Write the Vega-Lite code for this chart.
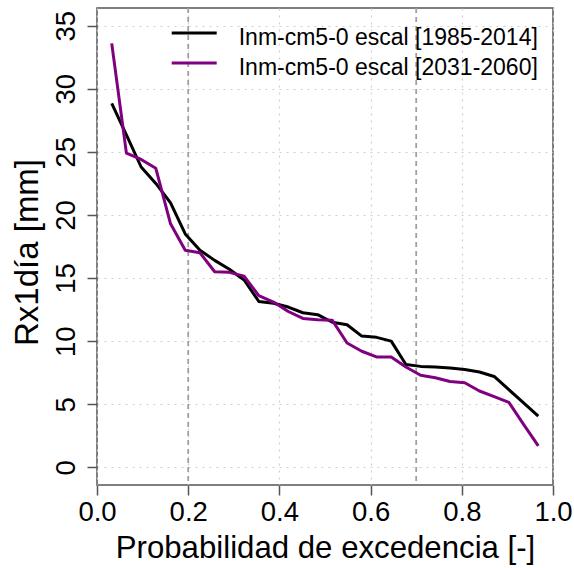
{
  "$schema": "https://vega.github.io/schema/vega-lite/v6.json",
  "width": 456,
  "height": 477,
  "autosize": {"type": "none"},
  "padding": {"left": 97, "top": 8, "right": 21, "bottom": 83},
  "background": "white",
  "config": {
    "font": "Liberation Sans",
    "view": {"stroke": "#555555", "strokeWidth": 1.5},
    "axis": {
      "domain": false,
      "grid": true,
      "gridColor": "#cfcfcf",
      "gridDash": [2, 5],
      "gridWidth": 1.2,
      "tickColor": "#555555",
      "tickWidth": 1.5,
      "tickSize": 10,
      "labelColor": "#000000",
      "titleColor": "#000000",
      "labelFont": "Liberation Sans",
      "titleFont": "Liberation Sans",
      "titleFontWeight": "normal",
      "labelFontSize": 27.5,
      "labelOverlap": false,
      "labelFlush": false
    }
  },
  "datasets": {
    "ref": [{"p": 0.2}, {"p": 0.7}],
    "curves": [
      {"p": 0.0323, "v": 28.85, "serie": "Inm-cm5-0 escal [1985-2014]"},
      {"p": 0.0645, "v": 26.35, "serie": "Inm-cm5-0 escal [1985-2014]"},
      {"p": 0.0968, "v": 23.8, "serie": "Inm-cm5-0 escal [1985-2014]"},
      {"p": 0.1290, "v": 22.5, "serie": "Inm-cm5-0 escal [1985-2014]"},
      {"p": 0.1613, "v": 20.95, "serie": "Inm-cm5-0 escal [1985-2014]"},
      {"p": 0.1935, "v": 18.5, "serie": "Inm-cm5-0 escal [1985-2014]"},
      {"p": 0.2258, "v": 17.2, "serie": "Inm-cm5-0 escal [1985-2014]"},
      {"p": 0.2581, "v": 16.4, "serie": "Inm-cm5-0 escal [1985-2014]"},
      {"p": 0.2903, "v": 15.7, "serie": "Inm-cm5-0 escal [1985-2014]"},
      {"p": 0.3226, "v": 14.85, "serie": "Inm-cm5-0 escal [1985-2014]"},
      {"p": 0.3548, "v": 13.15, "serie": "Inm-cm5-0 escal [1985-2014]"},
      {"p": 0.3871, "v": 13.0, "serie": "Inm-cm5-0 escal [1985-2014]"},
      {"p": 0.4194, "v": 12.7, "serie": "Inm-cm5-0 escal [1985-2014]"},
      {"p": 0.4516, "v": 12.25, "serie": "Inm-cm5-0 escal [1985-2014]"},
      {"p": 0.4839, "v": 12.1, "serie": "Inm-cm5-0 escal [1985-2014]"},
      {"p": 0.5161, "v": 11.5, "serie": "Inm-cm5-0 escal [1985-2014]"},
      {"p": 0.5484, "v": 11.3, "serie": "Inm-cm5-0 escal [1985-2014]"},
      {"p": 0.5806, "v": 10.4, "serie": "Inm-cm5-0 escal [1985-2014]"},
      {"p": 0.6129, "v": 10.3, "serie": "Inm-cm5-0 escal [1985-2014]"},
      {"p": 0.6452, "v": 10.0, "serie": "Inm-cm5-0 escal [1985-2014]"},
      {"p": 0.6774, "v": 8.15, "serie": "Inm-cm5-0 escal [1985-2014]"},
      {"p": 0.7097, "v": 8.0, "serie": "Inm-cm5-0 escal [1985-2014]"},
      {"p": 0.7419, "v": 7.95, "serie": "Inm-cm5-0 escal [1985-2014]"},
      {"p": 0.7742, "v": 7.87, "serie": "Inm-cm5-0 escal [1985-2014]"},
      {"p": 0.8065, "v": 7.75, "serie": "Inm-cm5-0 escal [1985-2014]"},
      {"p": 0.8387, "v": 7.55, "serie": "Inm-cm5-0 escal [1985-2014]"},
      {"p": 0.8710, "v": 7.2, "serie": "Inm-cm5-0 escal [1985-2014]"},
      {"p": 0.9032, "v": 6.15, "serie": "Inm-cm5-0 escal [1985-2014]"},
      {"p": 0.9355, "v": 5.1, "serie": "Inm-cm5-0 escal [1985-2014]"},
      {"p": 0.9677, "v": 4.05, "serie": "Inm-cm5-0 escal [1985-2014]"},
      {"p": 0.0323, "v": 33.6, "serie": "Inm-cm5-0 escal [2031-2060]"},
      {"p": 0.0645, "v": 24.9, "serie": "Inm-cm5-0 escal [2031-2060]"},
      {"p": 0.0968, "v": 24.4, "serie": "Inm-cm5-0 escal [2031-2060]"},
      {"p": 0.1290, "v": 23.7, "serie": "Inm-cm5-0 escal [2031-2060]"},
      {"p": 0.1613, "v": 19.3, "serie": "Inm-cm5-0 escal [2031-2060]"},
      {"p": 0.1935, "v": 17.2, "serie": "Inm-cm5-0 escal [2031-2060]"},
      {"p": 0.2258, "v": 17.0, "serie": "Inm-cm5-0 escal [2031-2060]"},
      {"p": 0.2581, "v": 15.5, "serie": "Inm-cm5-0 escal [2031-2060]"},
      {"p": 0.2903, "v": 15.45, "serie": "Inm-cm5-0 escal [2031-2060]"},
      {"p": 0.3226, "v": 15.15, "serie": "Inm-cm5-0 escal [2031-2060]"},
      {"p": 0.3548, "v": 13.6, "serie": "Inm-cm5-0 escal [2031-2060]"},
      {"p": 0.3871, "v": 13.1, "serie": "Inm-cm5-0 escal [2031-2060]"},
      {"p": 0.4194, "v": 12.35, "serie": "Inm-cm5-0 escal [2031-2060]"},
      {"p": 0.4516, "v": 11.8, "serie": "Inm-cm5-0 escal [2031-2060]"},
      {"p": 0.4839, "v": 11.7, "serie": "Inm-cm5-0 escal [2031-2060]"},
      {"p": 0.5161, "v": 11.65, "serie": "Inm-cm5-0 escal [2031-2060]"},
      {"p": 0.5484, "v": 9.85, "serie": "Inm-cm5-0 escal [2031-2060]"},
      {"p": 0.5806, "v": 9.2, "serie": "Inm-cm5-0 escal [2031-2060]"},
      {"p": 0.6129, "v": 8.75, "serie": "Inm-cm5-0 escal [2031-2060]"},
      {"p": 0.6452, "v": 8.75, "serie": "Inm-cm5-0 escal [2031-2060]"},
      {"p": 0.6774, "v": 7.95, "serie": "Inm-cm5-0 escal [2031-2060]"},
      {"p": 0.7097, "v": 7.3, "serie": "Inm-cm5-0 escal [2031-2060]"},
      {"p": 0.7419, "v": 7.1, "serie": "Inm-cm5-0 escal [2031-2060]"},
      {"p": 0.7742, "v": 6.8, "serie": "Inm-cm5-0 escal [2031-2060]"},
      {"p": 0.8065, "v": 6.7, "serie": "Inm-cm5-0 escal [2031-2060]"},
      {"p": 0.8387, "v": 6.05, "serie": "Inm-cm5-0 escal [2031-2060]"},
      {"p": 0.8710, "v": 5.6, "serie": "Inm-cm5-0 escal [2031-2060]"},
      {"p": 0.9032, "v": 5.15, "serie": "Inm-cm5-0 escal [2031-2060]"},
      {"p": 0.9355, "v": 3.4, "serie": "Inm-cm5-0 escal [2031-2060]"},
      {"p": 0.9677, "v": 1.7, "serie": "Inm-cm5-0 escal [2031-2060]"}
    ]
  },
  "encoding": {
    "x": {
      "field": "p",
      "type": "quantitative",
      "scale": {"domain": [0, 1], "nice": false, "zero": false},
      "axis": {
        "values": [0, 0.2, 0.4, 0.6, 0.8, 1],
        "format": ".1f",
        "title": "Probabilidad de excedencia [-]",
        "titleFontSize": 31.2,
        "labelBaseline": "top",
        "labelPadding": 3,
        "titleAlign": "center",
        "titleBaseline": "alphabetic",
        "titleX": 228,
        "titleY": 72
      }
    }
  },
  "layer": [
    {
      "data": {"name": "ref"},
      "mark": {"type": "rule", "color": "#a0a0a0", "strokeDash": [5, 4], "strokeWidth": 1.8},
      "encoding": {}
    },
    {
      "data": {"name": "curves"},
      "mark": {"type": "line", "strokeWidth": 3, "strokeJoin": "round"},
      "encoding": {
        "y": {
          "field": "v",
          "type": "quantitative",
          "scale": {"domain": [-1.4, 36.4], "nice": false, "zero": false},
          "axis": {
            "values": [0, 5, 10, 15, 20, 25, 30, 35],
            "title": "Rx1día [mm]",
            "titleFontSize": 33,
            "labelAngle": 270,
            "labelAlign": "center",
            "labelBaseline": "alphabetic",
            "labelPadding": 13,
            "titleAngle": 270,
            "titleAlign": "center",
            "titleBaseline": "alphabetic",
            "titleX": -60,
            "titleY": 244
          }
        },
        "color": {
          "field": "serie",
          "type": "nominal",
          "scale": {
            "domain": ["Inm-cm5-0 escal [1985-2014]", "Inm-cm5-0 escal [2031-2060]"],
            "range": ["#000000", "#800080"]
          },
          "legend": {
            "title": null,
            "orient": "none",
            "legendX": 85.7,
            "legendY": 18,
            "padding": 0,
            "symbolType": "M-4,-0.8H4",
            "symbolSize": 126.5625,
            "symbolStrokeWidth": 3,
            "labelFontSize": 23,
            "labelOffset": 33,
            "labelColor": "#000000",
            "labelLimit": 0,
            "rowPadding": 6
          }
        }
      }
    }
  ]
}
